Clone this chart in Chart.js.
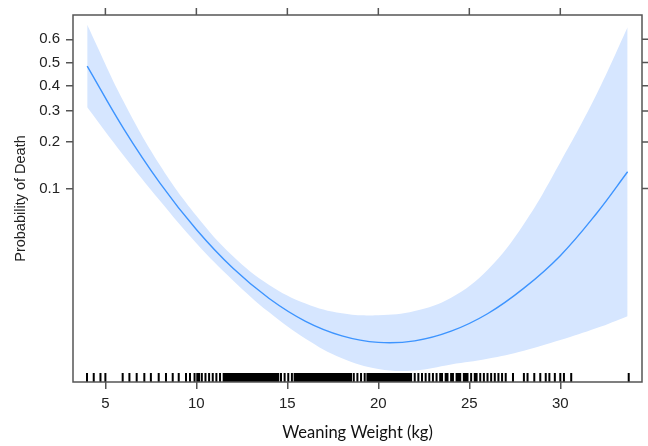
<!DOCTYPE html>
<html lang="en">
  <head>
    <meta charset="UTF-8" />
    <title>Probability of death by weaning weight</title>
    <script src="https://cdn.jsdelivr.net/npm/chart.js@4.4.0/dist/chart.umd.min.js"></script>
    <style>
      body { margin: 0; background: #fff; }
      #chart { display: block; }
    </style>
  </head>
  <body>
    <canvas id="chart" width="648" height="446"></canvas>
    <script>
      // weaning weight (kg) where the curve was read
      const weight = [4, 6, 8, 10, 12, 14, 16, 18, 20, 22, 24, 26, 28, 30, 32, 33.7];
      // fitted probability and 95% band (probability scale)
      const fitP = [0.4848, 0.2401, 0.1087, 0.0514, 0.0269, 0.016, 0.0108, 0.0084, 0.0075, 0.0077, 0.0091, 0.0123, 0.0191, 0.0332, 0.0672, 0.1294];
      const upperP = [0.659, 0.3358, 0.1426, 0.0645, 0.033, 0.0202, 0.0147, 0.0124, 0.012, 0.0129, 0.0162, 0.026, 0.0563, 0.1493, 0.3656, 0.6489];
      const lowerP = [0.3141, 0.1649, 0.0821, 0.0409, 0.0219, 0.0126, 0.008, 0.0057, 0.00473, 0.00461, 0.00512, 0.00565, 0.0065, 0.0078, 0.0096, 0.0118];
      // observed weights (rug along the bottom)
      const rugWeights = [
        3.99, 4.36, 4.73, 5.0, 5.95, 6.32, 6.72, 7.14, 7.5, 7.93, 8.33, 8.7, 9.03, 9.43, 9.65, 9.9,
        10.05, 10.15, 10.3, 10.5, 10.7, 10.9, 11.1, 11.3, 11.5,
        11.6, 11.7, 11.8, 11.9, 12.0, 12.1, 12.2, 12.3, 12.4, 12.5, 12.6, 12.7, 12.8, 12.9, 13.0,
        13.1, 13.2, 13.3, 13.4, 13.5, 13.6, 13.7, 13.8, 13.9, 14.0, 14.1, 14.2, 14.3, 14.4, 14.5,
        14.65, 14.85, 15.05, 15.25,
        15.4, 15.5, 15.6, 15.7, 15.8, 15.9, 16.0, 16.1, 16.2, 16.3, 16.4, 16.5, 16.6, 16.7, 16.8,
        16.9, 17.0, 17.1, 17.2, 17.3, 17.4, 17.5, 17.6, 17.7, 17.8, 17.9, 18.0, 18.1, 18.2, 18.3, 18.4, 18.5,
        18.65, 18.85, 19.05, 19.25,
        19.4, 19.5, 19.6, 19.7, 19.8, 19.9, 20.0, 20.1, 20.2, 20.3, 20.4, 20.5, 20.6, 20.7, 20.8,
        20.9, 21.0, 21.1, 21.2, 21.3, 21.4, 21.5, 21.6, 21.7, 21.8,
        22.0, 22.2, 22.4, 22.6, 22.8, 23.0, 23.2,
        23.4, 23.5, 23.7, 23.8, 24.0, 24.1, 24.3, 24.4, 24.5, 24.7, 24.8, 24.9, 25.1, 25.3, 25.4, 25.6,
        25.8, 26.0, 26.2, 26.4, 26.6, 26.8, 27.0,
        27.4, 28.0, 28.2, 28.57, 28.9, 29.2, 29.4, 29.7, 30.0, 30.2, 30.6, 33.76
      ];
      const xTicks = [5, 10, 15, 20, 25, 30];
      const yTicks = [0.1, 0.2, 0.3, 0.4, 0.5, 0.6];
      const xRange = [3.22, 34.49];
      const yRange = [0.00377, 0.6964];

      // the y axis is on the logit scale like the R effects plot
      const logit = (p) => Math.log(p / (1 - p));
      const invLogit = (v) => 1 / (1 + Math.exp(-v));
      const toPoints = (ps) => weight.map((w, i) => ({ x: w, y: logit(ps[i]) }));

      const axisColor = "#555";
      const textColor = "#222";

      const frameAndRug = {
        id: "frameAndRug",
        afterDatasetsDraw(chart) {
          const { ctx, chartArea: a, scales } = chart;
          const x = scales.x;
          const y = scales.y;
          ctx.save();
          // rug
          ctx.strokeStyle = "#000";
          ctx.lineWidth = 2;
          ctx.beginPath();
          rugWeights.forEach((v) => {
            const px = x.getPixelForValue(v);
            ctx.moveTo(px, a.bottom);
            ctx.lineTo(px, a.bottom - 9);
          });
          ctx.stroke();
          // box + ticks on top and right
          ctx.strokeStyle = axisColor;
          ctx.lineWidth = 1.5;
          ctx.strokeRect(a.left, a.top, a.right - a.left, a.bottom - a.top);
          ctx.beginPath();
          x.ticks.forEach((t) => {
            const px = x.getPixelForValue(t.value);
            ctx.moveTo(px, a.top);
            ctx.lineTo(px, a.top - 7);
          });
          y.ticks.forEach((t) => {
            const py = y.getPixelForValue(t.value);
            ctx.moveTo(a.right, py);
            ctx.lineTo(a.right + 7, py);
          });
          ctx.stroke();
          ctx.restore();
        },
      };

      const ctx = document.querySelector("#chart").getContext("2d");
      const myChart = new Chart(ctx, {
        type: "line",
        data: {
          datasets: [
            {
              label: "fit",
              data: toPoints(fitP),
              borderColor: "#3D94FF",
              borderWidth: 1.4,
              pointRadius: 0,
              tension: 0.4,
              fill: false,
            },
            {
              label: "upper",
              data: toPoints(upperP),
              borderWidth: 0,
              borderColor: "rgba(0,0,0,0)",
              backgroundColor: "#D6E6FF",
              pointRadius: 0,
              tension: 0.4,
              fill: "+1",
            },
            {
              label: "lower",
              data: toPoints(lowerP),
              borderWidth: 0,
              borderColor: "rgba(0,0,0,0)",
              pointRadius: 0,
              tension: 0.4,
              fill: false,
            },
          ],
        },
        options: {
          responsive: false,
          animation: false,
          layout: { padding: { top: 15, right: 6, left: 0, bottom: 0 } },
          plugins: {
            legend: { display: false },
            tooltip: { enabled: false },
          },
          scales: {
            x: {
              type: "linear",
              min: xRange[0],
              max: xRange[1],
              afterBuildTicks: (scale) => {
                scale.ticks = xTicks.map((v) => ({ value: v }));
              },
              afterFit: (scale) => {
                scale.height = 64;
              },
              border: { display: false },
              grid: { drawOnChartArea: false, drawTicks: true, tickLength: 7, color: axisColor, lineWidth: 1.5 },
              ticks: {
                padding: 6,
                maxRotation: 0,
                color: textColor,
                font: { family: "'Liberation Sans', Arial, sans-serif", size: 15 },
              },
              title: {
                display: true,
                text: "Weaning Weight (kg)",
                color: "#111",
                font: { family: "Lato, 'Open Sans', sans-serif", size: 16.5 },
                padding: { top: 4, bottom: 3 },
              },
            },
            y: {
              type: "linear",
              min: logit(yRange[0]),
              max: logit(yRange[1]),
              afterBuildTicks: (scale) => {
                scale.ticks = yTicks.map((p) => ({ value: logit(p) }));
              },
              afterFit: (scale) => {
                scale.width = 73;
              },
              border: { display: false },
              grid: { drawOnChartArea: false, drawTicks: true, tickLength: 7, color: axisColor, lineWidth: 1.5 },
              ticks: {
                padding: 6,
                color: textColor,
                font: { family: "'Liberation Sans', Arial, sans-serif", size: 15 },
                callback: (v) => invLogit(v).toFixed(1),
              },
              title: {
                display: true,
                text: "Probability of Death",
                color: textColor,
                font: { family: "'Liberation Sans', Arial, sans-serif", size: 14.5 },
                padding: { top: 12, bottom: 0 },
              },
            },
          },
        },
        plugins: [frameAndRug],
      });
    </script>
  </body>
</html>
